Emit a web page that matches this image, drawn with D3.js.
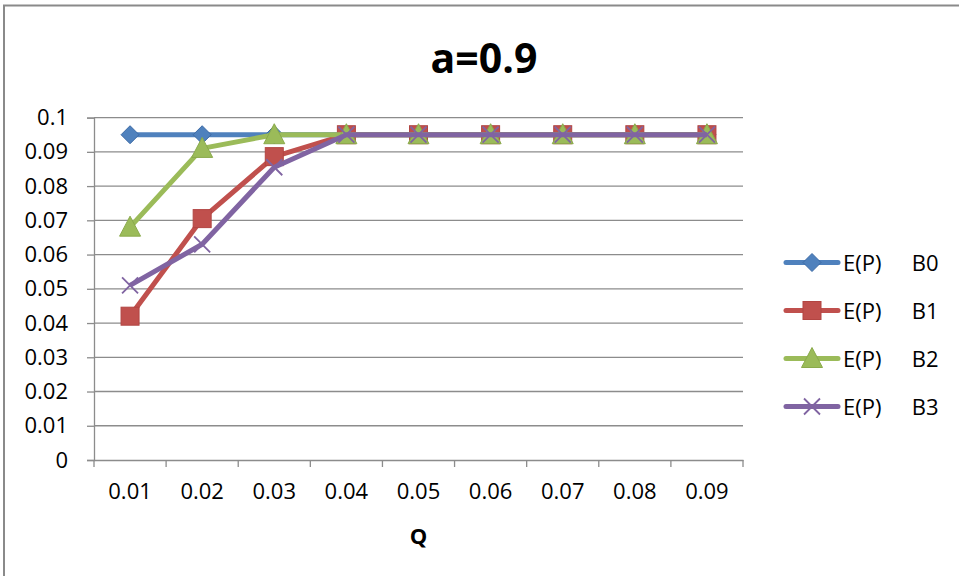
<!DOCTYPE html>
<html>
<head>
<meta charset="utf-8">
<script src="https://cdn.jsdelivr.net/npm/d3@7/dist/d3.min.js"></script>
<style>
  html, body { margin: 0; padding: 0; background: #fff; }
  svg { display: block; font-family: "Open Sans", "Noto Sans", sans-serif; }
</style>
</head>
<body>
<svg id="chart" width="959" height="576"></svg>
<script>
// Expected performance E(P) against Q for four bids, a = 0.9
const categories = ["0.01", "0.02", "0.03", "0.04", "0.05", "0.06", "0.07", "0.08", "0.09"];
const seriesNames = ["E(P)     B0", "E(P)     B1", "E(P)     B2", "E(P)     B3"];
const valuesB0 = [0.095, 0.095, 0.095, 0.095, 0.095, 0.095, 0.095, 0.095, 0.095];
const valuesB1 = [0.042, 0.0705, 0.0886, 0.095, 0.095, 0.095, 0.095, 0.095, 0.095];
const valuesB2 = [0.068, 0.091, 0.095, 0.095, 0.095, 0.095, 0.095, 0.095, 0.095];
const valuesB3 = [0.051, 0.063, 0.0855, 0.095, 0.095, 0.095, 0.095, 0.095, 0.095];
const yTicks = [0, 0.01, 0.02, 0.03, 0.04, 0.05, 0.06, 0.07, 0.08, 0.09, 0.1];
const title = "a=0.9";
const xTitle = "Q";

const series = [
  { name: seriesNames[0], values: valuesB0, color: "#4F81BD", edge: "#3C6AA5", marker: "diamond" },
  { name: seriesNames[1], values: valuesB1, color: "#C0504D", edge: "#B24542", marker: "square" },
  { name: seriesNames[2], values: valuesB2, color: "#9BBB59", edge: "#8AAA4B", marker: "triangle" },
  { name: seriesNames[3], values: valuesB3, color: "#8064A2", edge: "#8064A2", marker: "cross" }
];

const svg = d3.select("#chart");
const plotLeft = 94, plotRight = 743, plotTop = 117.6, plotBottom = 460;
const labelFont = "22px";

// frame around the chart area
svg.append("rect")
  .attr("x", 4).attr("y", 5.5).attr("width", 1000).attr("height", 1000)
  .attr("fill", "none").attr("stroke", "#8a8a8a").attr("stroke-width", 2);

const x = d3.scaleBand().domain(categories).range([plotLeft, plotRight]).padding(0);
const y = d3.scaleLinear().domain([0, 0.1]).range([plotBottom, plotTop]);
const gridColor = "#8c8c8c";

// horizontal gridlines
svg.append("g")
  .selectAll("line")
  .data(yTicks.filter(t => t > 0))
  .join("line")
  .attr("x1", plotLeft).attr("x2", plotRight)
  .attr("y1", d => y(d)).attr("y2", d => y(d))
  .attr("stroke", gridColor).attr("stroke-width", 1.3);

// y axis
const yAxis = svg.append("g")
  .attr("transform", `translate(${plotLeft},0)`)
  .call(d3.axisLeft(y).tickValues(yTicks).tickSize(7).tickPadding(19)
    .tickFormat(d => d3.format("~g")(+d.toFixed(2))));
yAxis.select(".domain").attr("stroke", gridColor).attr("stroke-width", 1.3);
yAxis.selectAll(".tick line").attr("stroke", gridColor).attr("stroke-width", 1.3);
yAxis.selectAll("text").attr("fill", "#000").style("font-size", labelFont)
  .style("font-family", "'Open Sans', sans-serif");

// x axis with ticks at the band boundaries
const xAxis = svg.append("g")
  .attr("transform", `translate(0,${plotBottom})`)
  .call(d3.axisBottom(x).tickSize(0).tickPadding(23));
xAxis.select(".domain").attr("stroke", gridColor).attr("stroke-width", 1.3);
xAxis.selectAll("text").attr("fill", "#000").style("font-size", labelFont)
  .style("font-family", "'Open Sans', sans-serif");
svg.append("g")
  .selectAll("line")
  .data(d3.range(categories.length + 1))
  .join("line")
  .attr("x1", i => plotLeft + i * x.step()).attr("x2", i => plotLeft + i * x.step())
  .attr("y1", plotBottom).attr("y2", plotBottom + 7)
  .attr("stroke", gridColor).attr("stroke-width", 1.3);

// titles
svg.append("text")
  .attr("x", 484).attr("y", 73)
  .attr("text-anchor", "middle")
  .style("font-size", "41px").style("font-weight", "bold")
  .text(title);
svg.append("text")
  .attr("x", (plotLeft + plotRight) / 2).attr("y", 544)
  .attr("text-anchor", "middle")
  .style("font-size", "22px").style("font-weight", "bold")
  .text(xTitle);

function drawMarker(g, type, color, edge) {
  if (type === "diamond") {
    g.append("path").attr("d", "M0,-9 L9,0 L0,9 L-9,0 Z")
      .attr("fill", color).attr("stroke", edge).attr("stroke-width", 1);
  } else if (type === "square") {
    g.append("rect").attr("x", -9).attr("y", -9).attr("width", 18).attr("height", 18)
      .attr("fill", color).attr("stroke", edge).attr("stroke-width", 1);
  } else if (type === "triangle") {
    g.append("path").attr("d", "M0,-11 L10.5,9 L-10.5,9 Z")
      .attr("fill", color).attr("stroke", edge).attr("stroke-width", 1);
  } else {
    g.append("path").attr("d", "M-8,-8 L8,8 M-8,8 L8,-8")
      .attr("stroke", color).attr("stroke-width", 1.8).attr("fill", "none");
  }
}

const line = d3.line()
  .x((d, i) => x(categories[i]) + x.bandwidth() / 2)
  .y(d => y(d));

series.forEach(s => {
  const g = svg.append("g");
  g.append("path")
    .datum(s.values)
    .attr("d", line)
    .attr("fill", "none")
    .attr("stroke", s.color)
    .attr("stroke-width", 5)
    .attr("stroke-linejoin", "round");
  s.values.forEach((v, i) => {
    const m = g.append("g")
      .attr("transform", `translate(${x(categories[i]) + x.bandwidth() / 2},${y(v)})`);
    drawMarker(m, s.marker, s.color, s.edge);
  });
});

// legend: the two words of each entry sit in fixed columns
const legend = svg.append("g");
series.forEach((s, i) => {
  const cy = 262.5 + i * 48;
  const row = legend.append("g");
  row.append("line")
    .attr("x1", 786).attr("x2", 838).attr("y1", cy).attr("y2", cy)
    .attr("stroke", s.color).attr("stroke-width", 5).attr("stroke-linecap", "round");
  const m = row.append("g").attr("transform", `translate(812,${cy})`);
  drawMarker(m, s.marker, s.color, s.edge);
  const parts = s.name.split(/\s+/);
  const t = row.append("text").attr("y", cy + 8).style("font-size", labelFont);
  t.append("tspan").attr("x", 843).text(parts[0]);
  t.append("tspan").attr("x", 906).text(" " + parts[1]);
});
</script>
</body>
</html>
